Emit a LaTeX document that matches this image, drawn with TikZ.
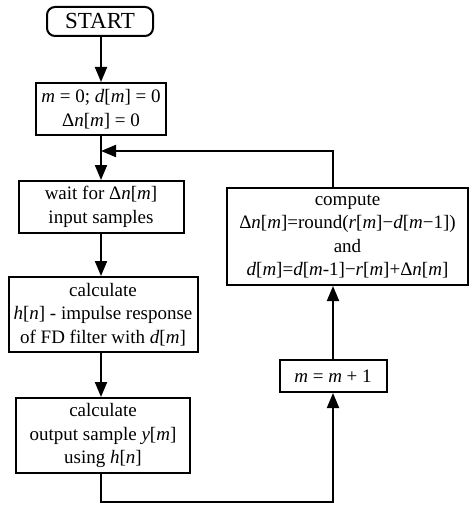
\documentclass[tikz,border=0pt]{standalone}
\usepackage{fontspec}
\setmainfont{Liberation Serif}
\usetikzlibrary{arrows.meta}
\newcommand{\vv}[1]{\textit{#1}}
\begin{document}
\begin{tikzpicture}[x=1pt,y=-1pt,
  box/.style={draw, line width=2pt, align=center, inner sep=0pt,
    font=\fontsize{19}{23.5}\selectfont},
  conn/.style={line width=2pt},
  arr/.style={conn,-{Triangle[length=15pt,width=12pt]}}]
\useasboundingbox (0,0) rectangle (470,505);
\node[box, rounded corners=8pt, minimum width=106pt, minimum height=29pt,
  font=\fontsize{23}{26}\selectfont] (start) at (100,21.5) {START};
\node[box, minimum width=130pt, minimum height=52pt] (b1) at (101,109)
  {\vv{m} = 0; \vv{d}[\vv{m}] = 0\\ Δ\vv{n}[\vv{m}] = 0};
\node[box, minimum width=165pt, minimum height=52pt] (b2) at (101,207)
  {wait for Δ\vv{n}[\vv{m}]\\ input samples};
\node[box, minimum width=189pt, minimum height=75pt] (b3) at (103,314.5)
  {calculate\\ \vv{h}[\vv{n}] - impulse response\\ of FD filter with \vv{d}[\vv{m}]};
\node[box, minimum width=174pt, minimum height=75pt] (b4) at (103,435.5)
  {calculate\\ output sample \vv{y}[\vv{m}]\\ using \vv{h}[\vv{n}]};
\node[box, minimum width=241pt, minimum height=97pt] (comp) at (347.5,236.5)
  {compute\\ Δ\vv{n}[\vv{m}]=round(\vv{r}[\vv{m}]−\vv{d}[\vv{m}−1])\\ and\\
   \vv{d}[\vv{m}]=\vv{d}[\vv{m}-1]−\vv{r}[\vv{m}]+Δ\vv{n}[\vv{m}]};
\node[box, minimum width=107pt, minimum height=32pt] (mb) at (333,376)
  {\vv{m} = \vv{m} + 1};
\coordinate (join) at (101,151);
\coordinate (bl) at (101,502);
\draw[arr] (start.south -| join) -- (b1.north -| join);
\draw[arr] (b1.south -| join) -- (b2.north -| join);
\draw[arr] (b2.south -| join) -- (b3.north -| join);
\draw[arr] (b3.south -| join) -- (b4.north -| join);
\draw[arr] (b4.south -| bl) -- (bl) -| (mb.south);
\draw[arr] (mb.north) -- (mb.north |- comp.south);
\draw[arr] (comp.north -| mb.north) |- (join);
\end{tikzpicture}
\end{document}
